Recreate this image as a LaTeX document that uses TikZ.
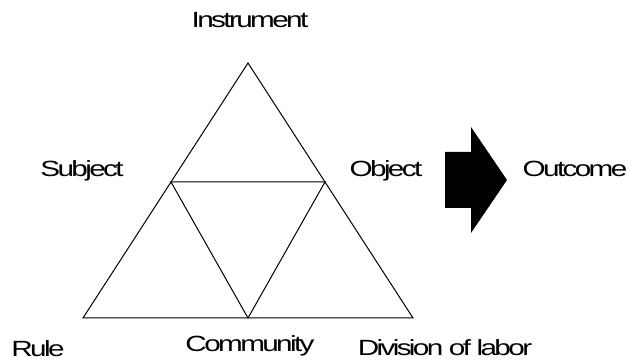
\documentclass[tikz,border=0pt]{standalone}
\usepackage{fontspec}
\setmainfont{Liberation Sans}[FakeStretch=1.35,LetterSpace=-12]
\begin{document}
\begin{tikzpicture}[x=1pt,y=-1pt,
  lbl/.style={anchor=base,inner sep=0pt,font=\fontsize{22}{22}\selectfont},
  edge/.style={line width=1pt,line join=miter}]
\useasboundingbox (0,0) rectangle (630,363);
\coordinate (A) at (248,63);
\coordinate (BL) at (83,318);
\coordinate (BR) at (413,318);
\coordinate (ML) at (171,182);
\coordinate (MR) at (325,182);
\coordinate (MB) at (248,318);
\draw[edge] (A) -- (BL) -- (BR) -- cycle;
\draw[edge] (ML) -- (MR) -- (MB) -- cycle;
\fill (445,152) -- (471,152) -- (471,127) -- (507,180) -- (471,233) -- (471,208) -- (445,208) -- cycle;
\node[lbl] (instr) at (250,28) {Instrument};
\node[lbl] (subj) at (82,177) {Subject};
\node[lbl] (obj) at (386,177) {Object};
\node[lbl] (out) at (575,177) {Outcome};
\node[lbl] (rule) at (38,357) {Rule};
\node[lbl] (comm) at (250,352) {Community};
\node[lbl] (div) at (445,356) {Division of labor};
\end{tikzpicture}
\end{document}
